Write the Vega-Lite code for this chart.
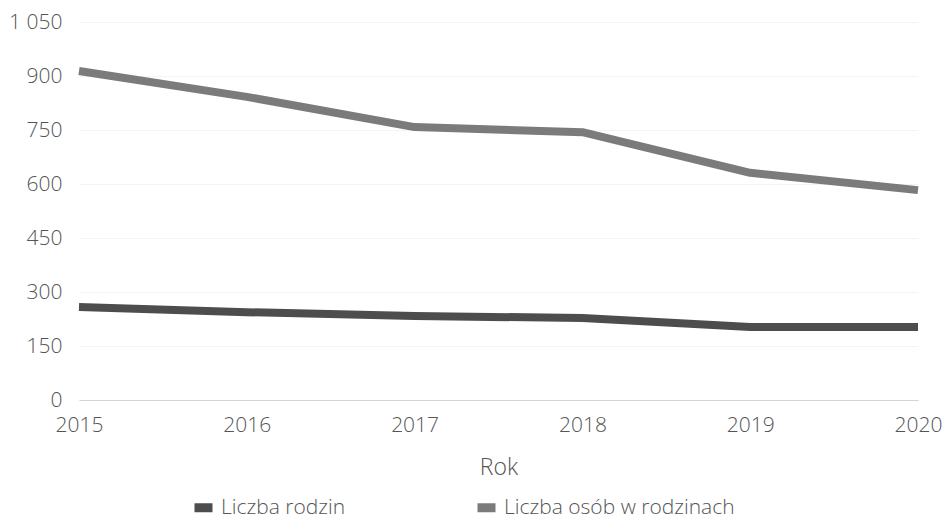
{
  "$schema": "https://vega.github.io/schema/vega-lite/v6.json",
  "autosize": "none",
  "width": 839,
  "height": 378,
  "padding": {"left": 79, "top": 22, "right": 25, "bottom": 122},
  "background": "white",
  "config": {
    "font": "Open Sans",
    "view": {"stroke": null},
    "legend": {"padding": 0}
  },
  "data": {
    "values": [
      {"rok": "2015", "seria": "Liczba rodzin", "wartosc": 258},
      {"rok": "2016", "seria": "Liczba rodzin", "wartosc": 244},
      {"rok": "2017", "seria": "Liczba rodzin", "wartosc": 233},
      {"rok": "2018", "seria": "Liczba rodzin", "wartosc": 228},
      {"rok": "2019", "seria": "Liczba rodzin", "wartosc": 203},
      {"rok": "2020", "seria": "Liczba rodzin", "wartosc": 203},
      {"rok": "2015", "seria": "Liczba osób w rodzinach", "wartosc": 914},
      {"rok": "2016", "seria": "Liczba osób w rodzinach", "wartosc": 842},
      {"rok": "2017", "seria": "Liczba osób w rodzinach", "wartosc": 758},
      {"rok": "2018", "seria": "Liczba osób w rodzinach", "wartosc": 744},
      {"rok": "2019", "seria": "Liczba osób w rodzinach", "wartosc": 631},
      {"rok": "2020", "seria": "Liczba osób w rodzinach", "wartosc": 583}
    ]
  },
  "mark": {"type": "line", "strokeWidth": 8, "strokeCap": "butt", "strokeJoin": "round"},
  "encoding": {
    "x": {
      "field": "rok",
      "type": "ordinal",
      "scale": {"type": "point", "padding": 0},
      "axis": {
        "title": "Rok",
        "labelAngle": 0,
        "labelFontSize": 21,
        "labelFontWeight": 300,
        "labelColor": "#555555",
        "titleFontSize": 23,
        "titleFontWeight": 300,
        "titleColor": "#555555",
        "titlePadding": 21,
        "labelPadding": 14,
        "domain": true,
        "domainColor": "#d4d4d4",
        "domainWidth": 1,
        "ticks": false,
        "grid": false
      }
    },
    "y": {
      "field": "wartosc",
      "type": "quantitative",
      "scale": {"domain": [0, 1050], "nice": false},
      "axis": {
        "title": null,
        "values": [0, 150, 300, 450, 600, 750, 900, 1050],
        "labelExpr": "replace(format(datum.value, ',d'), ',', ' ')",
        "labelFontSize": 21,
        "labelFontWeight": 300,
        "labelColor": "#555555",
        "labelPadding": 17,
        "domain": false,
        "ticks": false,
        "gridColor": "#f3f3f3",
        "gridWidth": 1
      }
    },
    "color": {
      "field": "seria",
      "type": "nominal",
      "scale": {
        "domain": ["Liczba rodzin", "Liczba osób w rodzinach"],
        "range": ["#4d4d4d", "#7b7b7b"]
      },
      "legend": {
        "title": null,
        "orient": "none",
        "legendX": 114,
        "legendY": 475,
        "direction": "horizontal",
        "symbolType": "M-1,-0.5H1V0.5H-1Z",
        "symbolSize": 324,
        "symbolStrokeWidth": 0,
        "labelFontSize": 21,
        "labelFontWeight": 300,
        "labelColor": "#555555",
        "labelLimit": 400,
        "columnPadding": 130,
        "labelOffset": 7,
        "encode": {
          "symbols": {"update": {"fill": {"scale": "color", "field": "value"}, "strokeWidth": {"value": 0}}}
        }
      }
    }
  }
}
